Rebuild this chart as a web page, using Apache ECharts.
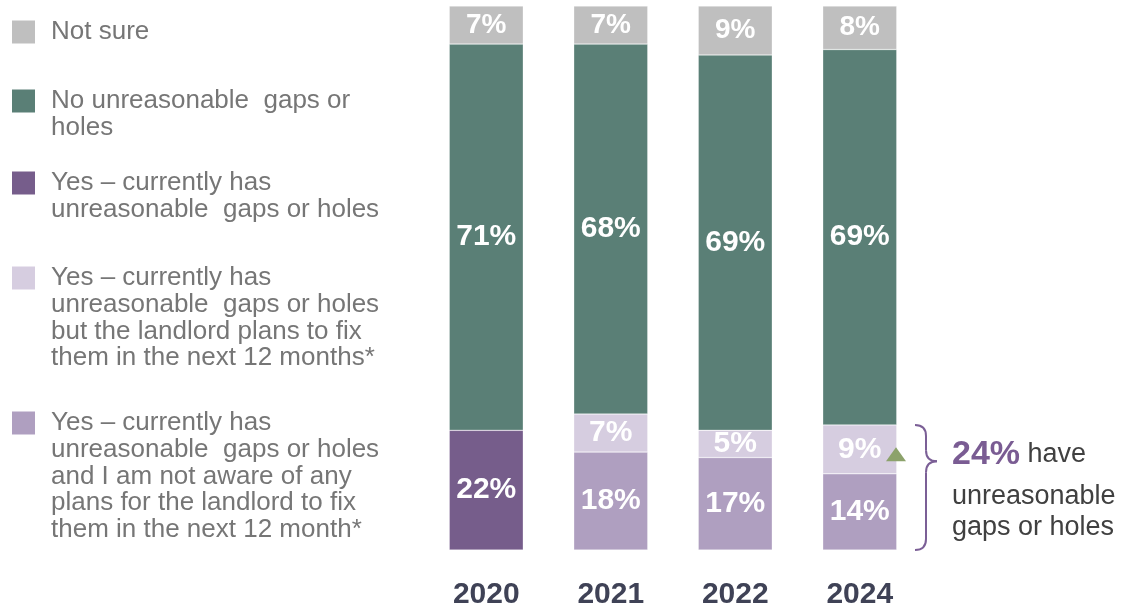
<!DOCTYPE html>
<html>
<head>
<meta charset="utf-8">
<script src="https://cdn.jsdelivr.net/npm/echarts@6/dist/echarts.min.js"></script>
<style>
  html, body { margin: 0; padding: 0; background: #fff; }
  #chart { width: 1127px; height: 610px; }
</style>
</head>
<body>
<div id="chart"></div>
<script>
// 数据
const years = ['2020', '2021', '2022', '2024'];
const yesCurrently = [22, null, null, null];
const yesNotAware = [null, 18, 17, 14];
const yesPlansFix = [null, 7, 5, 9];
const noGaps = [71, 68, 69, 69];
const notSure = [7, 7, 9, 8];
// 2024 合计（原图标注，四舍五入后为 24%）
const hasGaps2024 = 24;

const seriesNames = [
  'Yes – currently has\nunreasonable  gaps or holes',
  'Yes – currently has\nunreasonable  gaps or holes\nand I am not aware of any\nplans for the landlord to fix\nthem in the next 12 month*',
  'Yes – currently has\nunreasonable  gaps or holes\nbut the landlord plans to fix\nthem in the next 12 months*',
  'No unreasonable  gaps or\nholes',
  'Not sure'
];
const colors = ['#765D8B', '#AF9FC0', '#D6CDE0', '#5A7F76', '#BFBFBF'];

// 图例顺序（自上而下）
const legendOrder = [4, 3, 0, 2, 1];
const legendRowY = [32, 101, 183, 278, 423];

const FONT = 'Liberation Sans, Arial, sans-serif';
const chart = echarts.init(document.getElementById('chart'));

const seriesData = [yesCurrently, yesNotAware, yesPlansFix, noGaps, notSure];

const series = seriesData.map((d, i) => ({
  name: seriesNames[i],
  type: 'bar',
  stack: 'total',
  barWidth: 74,
  data: d,
  itemStyle: { color: colors[i], borderColor: 'rgba(255,255,255,0.6)', borderWidth: 0.5 },
  label: {
    show: true,
    position: 'inside',
    formatter: '{c}%',
    color: '#fff',
    fontFamily: FONT,
    fontWeight: 'bold',
    fontSize: i === 4 ? 28 : 30
  }
}));

const option = {
  animation: false,
  grid: { left: 424, right: 205, top: 6, bottom: 60 },
  xAxis: {
    type: 'category',
    data: years,
    axisLine: { show: false },
    axisTick: { show: false },
    axisLabel: {
      margin: 30,
      color: '#3F4256',
      fontFamily: FONT,
      fontWeight: 'bold',
      fontSize: 30
    }
  },
  yAxis: { type: 'value', min: 0, max: 100, show: false },
  series: series
};

chart.setOption(option);

// 图例 + 注释
const graphics = [];
legendOrder.forEach((si, k) => {
  const cy = legendRowY[k];
  graphics.push({
    type: 'rect',
    shape: { x: 12, y: cy - 11.5, width: 23, height: 23 },
    style: { fill: colors[si] }
  });
  graphics.push({
    type: 'text',
    x: 51,
    y: cy - 13.35,
    style: {
      text: seriesNames[si],
      fill: '#767676',
      font: '26px ' + FONT,
      lineHeight: 26.7,
      verticalAlign: 'top'
    }
  });
});

// 2024 右侧花括号：覆盖 0 ~ (not aware + plans)
const lastIdx = years.length - 1;
const stack24 = yesNotAware[lastIdx] + yesPlansFix[lastIdx];
const pTop = chart.convertToPixel({ gridIndex: 0 }, [lastIdx, stack24]);
const pBot = chart.convertToPixel({ gridIndex: 0 }, [lastIdx, 0]);
const pMid = chart.convertToPixel({ gridIndex: 0 }, [lastIdx, yesNotAware[lastIdx] + yesPlansFix[lastIdx] / 2]);
const yT = pTop[1], yB = pBot[1], yM = pMid[1] + 12;
const x0 = 915, xs = 926, xp = 937;
const braceStyle = { fill: 'none', stroke: '#7B5F96', lineWidth: 2 };
const curve = (x1, y1, cx, cy, x2, y2) => ({
  type: 'bezierCurve',
  z: 100,
  shape: { x1, y1, cpx1: cx, cpy1: cy, x2, y2 },
  style: braceStyle
});
graphics.push(curve(x0, yT, xs, yT, xs, yT + 11));
graphics.push({ type: 'line', z: 100, shape: { x1: xs, y1: yT + 11, x2: xs, y2: yM - 11 }, style: braceStyle });
graphics.push(curve(xs, yM - 11, xs, yM, xp, yM));
graphics.push(curve(xp, yM, xs, yM, xs, yM + 11));
graphics.push({ type: 'line', z: 100, shape: { x1: xs, y1: yM + 11, x2: xs, y2: yB - 11 }, style: braceStyle });
graphics.push(curve(xs, yB - 11, xs, yB, x0, yB));

// 显著性三角形
const triY = pMid[1] + 5;
graphics.push({
  type: 'polygon',
  z: 100,
  shape: { points: [[886, triY + 7], [906, triY + 7], [896, triY - 7]] },
  style: { fill: '#8CA26B' }
});

graphics.push({
  type: 'text',
  z: 100,
  x: 952,
  y: pMid[1] + 5.5,
  style: {
    text: '{big|' + hasGaps2024 + '%}{n| have}',
    verticalAlign: 'middle',
    rich: {
      big: { font: 'bold 34px ' + FONT, fill: '#7A5C93' },
      n: { font: '27px ' + FONT, fill: '#404040' }
    }
  }
});
graphics.push({
  type: 'text',
  z: 100,
  x: 952,
  y: pMid[1] + 32,
  style: {
    text: 'unreasonable\ngaps or holes',
    font: '27px ' + FONT,
    fill: '#404040',
    lineHeight: 31,
    verticalAlign: 'top'
  }
});

chart.setOption({ graphic: graphics });
</script>
</body>
</html>
